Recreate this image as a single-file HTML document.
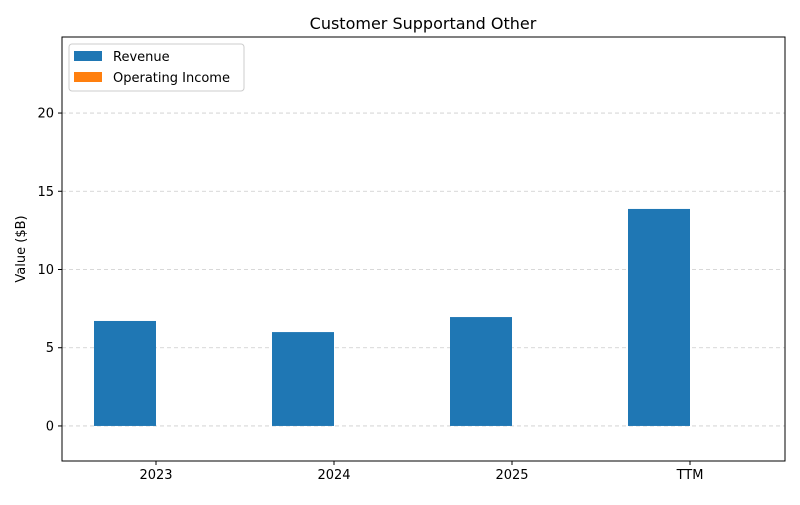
<!DOCTYPE html>
<html><head><meta charset="utf-8"><style>
body{margin:0;background:#fff;font-family:"Liberation Sans","DejaVu Sans",sans-serif}
</style></head><body>
<svg id="chart" width="800" height="500" xmlns="http://www.w3.org/2000/svg" font-family="DejaVu Sans, Liberation Sans, sans-serif">
<rect width="800" height="500" fill="#fff"/>
<text x="423" y="29" font-size="16" text-anchor="middle" fill="#000">Customer Supportand Other</text>
<g id="grid"></g><g id="bars"></g><g id="axes"></g>
<text transform="translate(25,249) rotate(-90)" font-size="13" text-anchor="middle">Value ($B)</text>
<g>
<rect x="69" y="44" width="175" height="47" rx="3" fill="#fff" stroke="#ccc"/>
<rect x="74" y="51" width="28" height="10" fill="#1f77b4"/>
<text x="113" y="61" font-size="13">Revenue</text>
<rect x="74" y="72" width="28" height="10" fill="#ff7f0e"/>
<text x="113" y="82" font-size="13">Operating Income</text>
</g>
</svg>
<script>
const categories=["2023","2024","2025","TTM"];
const revenue=[6.71,6.0,6.96,13.87];
const operatingIncome=[0,0,0,0];
const yTicks=[0,5,10,15,20];
const NS="http://www.w3.org/2000/svg";
const L=62,R=785,T=37,B=461,yMin=-2.24,yMax=24.86;
const step=178,x0=156,bw=62;
function yS(v){return B-(v-yMin)/(yMax-yMin)*(B-T);}
function xS(i){return x0+i*step;}
function mk(tag,attrs,parent){const e=document.createElementNS(NS,tag);for(const k in attrs)e.setAttribute(k,attrs[k]);parent.appendChild(e);return e;}
const grid=document.getElementById('grid'),bars=document.getElementById('bars'),axes=document.getElementById('axes');
yTicks.forEach(t=>{
 const y=yS(t);
 const g=mk('line',{x1:L,x2:R,y1:y,y2:y,stroke:'#ccc','stroke-dasharray':'4,3','stroke-width':0.8},grid);
 
 
 mk('line',{x1:L-4,x2:L,y1:y,y2:y,stroke:'#000'},axes);
 const tx=mk('text',{x:L-8,y:y+4.5,'font-size':13,'text-anchor':'end'},axes);
 tx.textContent=t;
 
 
});
categories.forEach((c,i)=>{
 const xc=xS(i);
 const r=mk('rect',{x:xc-bw,width:bw,y:Math.min(yS(revenue[i]),yS(0)),height:Math.abs(yS(0)-yS(revenue[i])),fill:'#1f77b4'},bars);
 
 
 const o=mk('rect',{x:xc,width:bw,y:Math.min(yS(operatingIncome[i]),yS(0)),height:Math.abs(yS(0)-yS(operatingIncome[i])),fill:'#ff7f0e'},bars);
 
 
 mk('line',{x1:xc,x2:xc,y1:B,y2:B+4,stroke:'#000'},axes);
 const tx=mk('text',{x:xc,y:B+18,'font-size':13,'text-anchor':'middle'},axes);
 tx.textContent=c;
 
 
});
const fr=mk('rect',{x:L,y:T,width:R-L,height:B-T,fill:'none',stroke:'#000','stroke-width':1},axes);


</script>
</body></html>
